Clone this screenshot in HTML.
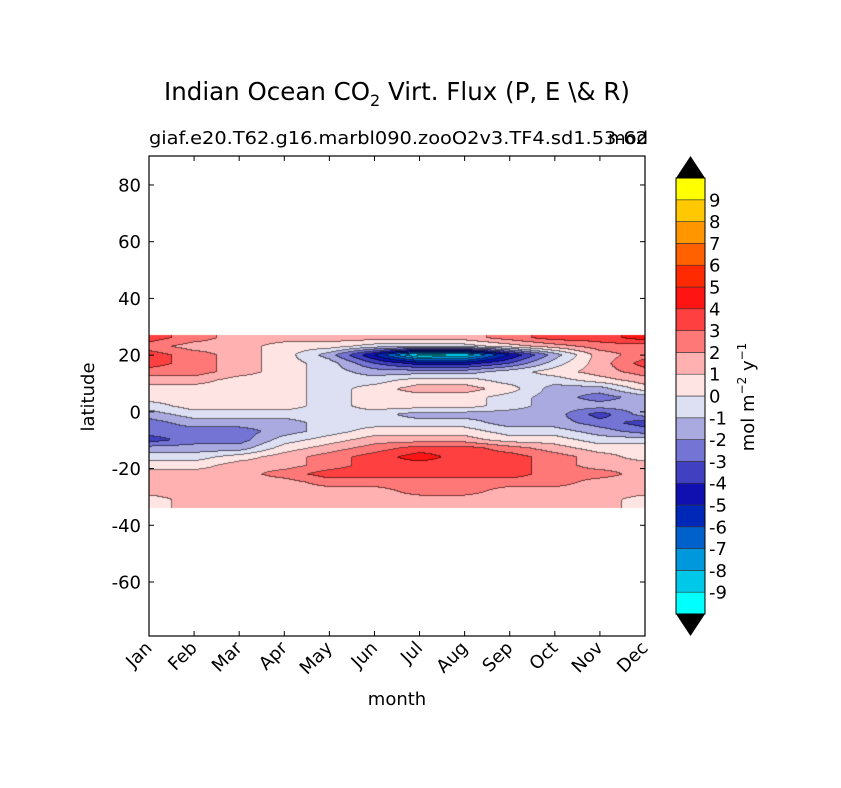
<!DOCTYPE html>
<html><head><meta charset="utf-8"><style>
body{margin:0;background:#fff;}
#wrap{position:relative;width:841px;height:788px;overflow:hidden;font-family:"DejaVu Sans","Liberation Sans",sans-serif;}
canvas,svg{position:absolute;left:0;top:0;}
</style></head><body>
<div id="wrap">
<canvas id="cv" width="841" height="788"></canvas>
<svg id="sv" width="841" height="788"></svg>
</div>
<script>
const months=["Jan","Feb","Mar","Apr","May","Jun","Jul","Aug","Sep","Oct","Nov","Dec"];
const lats=[26,23,20,17,14,11,8,5,2,-1,-4,-7,-10,-13,-16,-19,-22,-25,-28,-31,-34];
const fluxRows=[
[3.5,2.5,1.5,1.5,1.5,1.5,1.5,1.5,2.5,3.5,3.5,4.5],
[2.5,1.5,1.5,0.5,0.5,-0.5,-0.5,-0.5,0.5,1.5,2.5,2.5],
[3.5,2.5,1.5,0.5,-1.5,-5,-9.5,-9,-5,-1.5,1.5,2.5],
[3.5,2.5,1.5,0.5,-0.5,-3,-4.5,-4.5,-3,-0.5,1.5,3.5],
[2.5,2.5,1.5,0.5,-0.5,-1.5,-1.5,-1.5,-0.5,0.5,1.5,2.5],
[1.5,1.5,0.5,0.5,-0.5,-0.5,0.5,0.5,-0.5,-0.5,0.5,1.5],
[0.5,0.5,0.5,0.5,-0.5,0.5,1.5,1.5,0.5,-1.5,-1.5,0.5],
[0.5,0.5,0.5,0.5,-0.5,0.5,0.5,0.5,-0.5,-1.5,-2.5,-1.5],
[-0.5,0.5,0.5,0.5,-0.5,0.5,0.5,0.5,-0.5,-1.5,-1.5,-1.5],
[-1.5,-0.5,-0.5,-0.5,-0.5,-0.5,-1.5,-1.5,-1.5,-1.5,-3.5,-1.5],
[-2.5,-1.5,-1.5,-1.5,-0.5,-0.5,-0.5,-0.5,-1.5,-1.5,-2.5,-3.5],
[-2.5,-2.5,-2.5,-1.5,-0.5,0.5,0.5,0.5,-0.5,-0.5,-1.5,-2.5],
[-3.5,-2.5,-2.5,-0.5,0.5,1.5,1.5,1.5,0.5,0.5,-0.5,-0.5],
[-1.5,-1.5,-1.5,0.5,1.5,2.5,3.5,3.5,2.5,1.5,0.5,0.5],
[-0.5,-0.5,0.5,1.5,2.5,3.5,4.5,3.5,3.5,2.5,1.5,0.5],
[0.5,0.5,1.5,1.5,2.5,3.5,3.5,3.5,3.5,2.5,1.5,1.5],
[1.5,1.5,1.5,2.5,3.5,3.5,3.5,3.5,3.5,2.5,2.5,1.5],
[1.5,1.5,1.5,1.5,2.5,2.5,2.5,2.5,2.5,2.5,1.5,1.5],
[1.5,1.5,1.5,1.5,1.5,1.5,2.5,2.5,1.5,1.5,1.5,1.5],
[0.5,1.5,1.5,1.5,1.5,1.5,1.5,1.5,1.5,1.5,1.5,0.5],
[0.5,1.5,1.5,1.5,1.5,1.5,1.5,1.5,1.5,1.5,1.5,0.5]];
const yTicks=[80,60,40,20,0,-20,-40,-60];
const cbTicks=[9,8,7,6,5,4,3,2,1,0,-1,-2,-3,-4,-5,-6,-7,-8,-9];
const bandColors=["#00ffff","#00c8e8","#0098dc","#0060cc","#0028b8","#1010b0","#4040c0","#7474d4","#aaaae0","#dde0f2","#ffe4e4","#ffb0b0","#ff7878","#ff4040","#ff1414","#ff2a00","#ff6000","#ff9600","#ffc800","#ffff00"];

const X0=149,X1=645,Y0=156.6,PPD=2.836;
const xm=i=>X0+i*(X1-X0)/11;
const yl=l=>Y0+(90-l)*PPD;
const latTop=27,latBot=-34;

function val(px,py){
  let mi=(px-X0)/(X1-X0)*11; mi=Math.max(0,Math.min(11,mi));
  let lat=90-(py-Y0)/PPD;
  let r=(lats[0]-lat)/3; r=Math.max(0,Math.min(lats.length-1,r));
  let i0=Math.min(10,Math.floor(mi)),r0=Math.min(lats.length-2,Math.floor(r));
  let fx=mi-i0,fy=r-r0;
  let a=fluxRows[r0][i0],b=fluxRows[r0][i0+1],c=fluxRows[r0+1][i0],d=fluxRows[r0+1][i0+1];
  return a*(1-fx)*(1-fy)+b*fx*(1-fy)+c*(1-fx)*fy+d*fx*fy;
}
function band(v){return Math.max(0,Math.min(19,Math.floor(v)+10));}
function hex(h){return [parseInt(h.substr(1,2),16),parseInt(h.substr(3,2),16),parseInt(h.substr(5,2),16)];}

const cv=document.getElementById('cv'),ctx=cv.getContext('2d');
const ya=Math.round(yl(latTop)),yb=Math.round(yl(latBot));
const W=X1-X0,H=yb-ya;
const img=ctx.createImageData(W,H);
const B=[];
for(let y=0;y<H;y++){B.push([]);for(let x=0;x<W;x++)B[y].push(band(val(X0+x+0.5,ya+y+0.5)));}
for(let y=0;y<H;y++)for(let x=0;x<W;x++){
  let b=B[y][x];let c=hex(bandColors[b]);
  let edge=(x+1<W&&B[y][x+1]!==b)||(y+1<H&&B[y+1][x]!==b);
  if(edge){c=c.map(v=>Math.round(v*0.45));}
  let k=(y*W+x)*4;img.data[k]=c[0];img.data[k+1]=c[1];img.data[k+2]=c[2];img.data[k+3]=255;
}
ctx.putImageData(img,X0,ya);

const NS="http://www.w3.org/2000/svg",sv=document.getElementById('sv');
function el(t,a,txt){const e=document.createElementNS(NS,t);for(const k in a)e.setAttribute(k,a[k]);if(txt!==undefined)e.textContent=txt;sv.appendChild(e);return e;}
const F='"DejaVu Sans","Liberation Sans",sans-serif';

let t=el('text',{x:397,y:100,'font-size':24.5,'text-anchor':'middle','font-family':F},'');

t.innerHTML='Indian Ocean CO<tspan font-size="16" dy="6">2</tspan><tspan dy="-6"> Virt. Flux (P, E \\&amp; R)</tspan>';
t=el('text',{x:149,y:144,'font-size':18,'font-family':F,textLength:499,lengthAdjust:'spacingAndGlyphs'},'giaf.e20.T62.g16.marbl090.zooO2v3.TF4.sd1.53-62');

t=el('text',{x:648,y:144,'font-size':18,'text-anchor':'end','font-family':F},'mod');


let fr=el('rect',{x:X0,y:156,width:W,height:480,fill:'none',stroke:'#000','stroke-width':1.2});


yTicks.forEach(v=>{const y=yl(v);
  el('line',{x1:X0,x2:X0+5,y1:y,y2:y,stroke:'#000'});
  el('line',{x1:X1-5,x2:X1,y1:y,y2:y,stroke:'#000'});
  const tt=el('text',{x:141,y:y+6.5,'font-size':18,'text-anchor':'end','font-family':F},v);
  
});
months.forEach((m,i)=>{const x=xm(i);
  el('line',{x1:x,x2:x,y1:636,y2:631,stroke:'#000'});
  el('line',{x1:x,x2:x,y1:156,y2:161,stroke:'#000'});
  const tt=el('text',{x:x+4,y:649,'font-size':18,'text-anchor':'end','font-family':F,transform:`rotate(-45 ${x+4} 649)`},m);
  
});
t=el('text',{x:397,y:705,'font-size':18,'text-anchor':'middle','font-family':F},'month');

t=el('text',{x:94,y:397,'font-size':18,'text-anchor':'middle','font-family':F,transform:'rotate(-90 94 397)'},'latitude');


const CX=676,CW=29,CT=178,CB=614,bh=(CB-CT)/20;
for(let i=0;i<20;i++){
  const r=el('rect',{x:CX,y:CB-(i+1)*bh,width:CW,height:bh,fill:bandColors[i],stroke:'#333','stroke-width':0.6});
  
}
t=el('polygon',{points:`${CX},${CT} ${CX+CW},${CT} ${CX+CW/2},156`,fill:'#000'});

t=el('polygon',{points:`${CX},${CB} ${CX+CW},${CB} ${CX+CW/2},636`,fill:'#000'});

el('rect',{x:CX,y:CT,width:CW,height:CB-CT,fill:'none',stroke:'#000','stroke-width':1});
cbTicks.forEach(v=>{const y=CB-(v+10)*bh;
  const tt=el('text',{x:709,y:y+6.5,'font-size':18,'font-family':F},v);
  
});
t=el('text',{x:754,y:397,'font-size':18,'text-anchor':'middle','font-family':F,transform:'rotate(-90 754 397)'},'');
t.innerHTML='mol m<tspan font-size="12" dy="-8">−2</tspan><tspan dy="8">  y</tspan><tspan font-size="12" dy="-8">−1</tspan>';

</script>
</body></html>
